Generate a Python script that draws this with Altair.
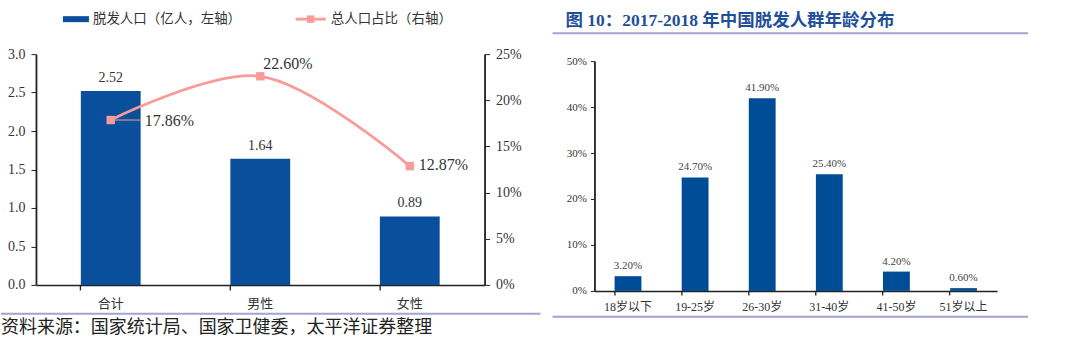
import altair as alt
import pandas as pd

# ---- data ----
left_cats = ["合计", "男性", "女性"]
left_pop = [2.52, 1.64, 0.89]
left_share = [0.1786, 0.2260, 0.1287]

right_cats = ["18岁以下", "19-25岁", "26-30岁", "31-40岁", "41-50岁", "51岁以上"]
right_vals = [0.032, 0.247, 0.419, 0.254, 0.042, 0.006]

legend_labels = ["脱发人口（亿人，左轴）", "总人口占比（右轴）"]
right_title = "图 10：2017-2018 年中国脱发人群年龄分布"
source_text = "资料来源：国家统计局、国家卫健委，太平洋证券整理"
left_ticks = [0, 0.5, 1, 1.5, 2, 2.5, 3]
right_ticks = [0, 0.05, 0.1, 0.15, 0.2, 0.25]
age_ticks = [0, 0.1, 0.2, 0.3, 0.4, 0.5]

BLUE = "#0a4f9b"
PINK = "#f99b9b"
LINEC = "#a3a3d3"
SERIF = "Liberation Serif"
CJK = "Noto Sans CJK SC"
NUMFONT = "Liberation Serif, Noto Sans CJK SC"

LW, LH = 449, 231
RW, RH = 403, 237

ldf = pd.DataFrame({"cat": left_cats, "pop": left_pop, "share": left_share})
rdf = pd.DataFrame({"cat": right_cats, "val": right_vals})
rdf["lab"] = [f"{v*100:.2f}%" for v in right_vals]
ldf["plab"] = [f"{v:.2f}" for v in left_pop]
ldf["slab"] = [f"{v*100:.2f}%" for v in left_share]

xl = alt.X("cat:N", sort=left_cats, title=None,
           scale=alt.Scale(paddingInner=0.6, paddingOuter=0.3),
           axis=alt.Axis(labelAngle=0, labelFont=CJK, labelFontSize=13, labelColor="#333",
                         labelPadding=8, bandPosition=0, tickSize=5, tickColor="#222",
                         domainColor="#222", domainWidth=1.5, tickWidth=1.3))
yl_axis = alt.Axis(values=left_ticks, format=".1f", grid=False, labelOverlap=False,
                   labelFont=SERIF, labelFontSize=14, labelColor="#333",
                   tickSize=5, tickColor="#222", domainColor="#222", domainWidth=1.8,
                   labelPadding=6)
yl = alt.Y("pop:Q", title=None, scale=alt.Scale(domain=[0, 3]), axis=yl_axis)
yr_axis = alt.Axis(orient="right", values=right_ticks, format=".0%",
                   grid=False, labelOverlap=False,
                   labelFont=SERIF, labelFontSize=14, labelColor="#333",
                   tickSize=5, tickColor="#222", domainColor="#222", domainWidth=1.8,
                   labelPadding=6)
yr = alt.Y("share:Q", title=None, scale=alt.Scale(domain=[0, 0.25]), axis=yr_axis)

base = alt.Chart(ldf)
bars = base.mark_bar(color=BLUE).encode(x=xl, y=yl)
bar_txt = base.mark_text(font=SERIF, fontSize=14, color="#333", dy=-13).encode(
    x=alt.X("cat:N", sort=left_cats), y=yl, text="plab:N")
left_bars = alt.layer(bars, bar_txt)

xs = alt.X("cat:N", sort=left_cats)
line = base.mark_line(color=PINK, strokeWidth=2.8, interpolate="catmull-rom").encode(x=xs, y=yr)
pts = base.mark_square(color=PINK, size=70, opacity=1).encode(x=xs, y=yr)
leader = base.transform_filter(alt.datum.cat == "合计").mark_rule(
    color=PINK, strokeWidth=1, x2Offset=30).encode(
    x=xs, x2=alt.X2("cat:N"), y=yr)
t1 = base.transform_filter(alt.datum.cat == "合计").mark_text(
    font=SERIF, fontSize=16, color="#333", align="left", dx=34, dy=1).encode(
    x=xs, y=yr, text="slab:N")
t2 = base.transform_filter(alt.datum.cat == "男性").mark_text(
    font=SERIF, fontSize=16, color="#333", align="left", dx=3, dy=-12).encode(
    x=xs, y=yr, text="slab:N")
t3 = base.transform_filter(alt.datum.cat == "女性").mark_text(
    font=SERIF, fontSize=16, color="#333", align="left", dx=9, dy=-1).encode(
    x=xs, y=yr, text="slab:N")
left_line = alt.layer(line, leader, pts, t1, t2, t3)

# decorations (pixel positions relative to the left view)
deco_df = pd.DataFrame({"a": [0]})
dbase = alt.Chart(deco_df)
anchor = dbase.mark_rule(color="white", strokeWidth=1).encode(
    x=alt.value(-35), x2=alt.value(-34), y=alt.value(-53))
sw1 = dbase.mark_rect(color=BLUE).encode(
    x=alt.value(27), x2=alt.value(53), y=alt.value(-38), y2=alt.value(-32))
lt1 = dbase.mark_text(font=CJK, fontSize=13.5, color="#333", align="left", baseline="middle").encode(
    x=alt.value(57), y=alt.value(-35), text=alt.value(legend_labels[0]))
sw2 = dbase.mark_rule(color=PINK, strokeWidth=2.8).encode(
    x=alt.value(260), x2=alt.value(290), y=alt.value(-35))
sw2p = dbase.mark_square(color=PINK, size=55, opacity=1).encode(
    x=alt.value(275), y=alt.value(-35))
lt2 = dbase.mark_text(font=CJK, fontSize=13.5, color="#333", align="left", baseline="middle").encode(
    x=alt.value(295), y=alt.value(-35), text=alt.value(legend_labels[1]))
fline = dbase.mark_rule(color=LINEC, strokeWidth=2).encode(
    x=alt.value(-35), x2=alt.value(505), y=alt.value(260))
ftxt = dbase.mark_text(font=CJK, fontSize=18, color="#222", align="left", baseline="middle").encode(
    x=alt.value(-35), y=alt.value(274), text=alt.value(source_text))
left_deco = alt.layer(anchor, sw1, lt1, sw2, sw2p, lt2, fline, ftxt)

left = alt.layer(left_bars, left_line, left_deco).resolve_scale(y="independent").properties(
    width=LW, height=LH)

# ---- right panel ----
xr = alt.X("cat:N", sort=right_cats, title=None,
           scale=alt.Scale(paddingInner=0.6, paddingOuter=0.3),
           axis=alt.Axis(labelAngle=0, labelFont=NUMFONT, labelFontSize=12, labelColor="#333",
                         labelPadding=7, bandPosition=0, tickSize=4, tickColor="#222",
                         domainColor="#222", domainWidth=1.5, tickWidth=1.3))
yrr = alt.Y("val:Q", title=None,
            scale=alt.Scale(domain=[0, 0.5], range=[RH, 7]),
            axis=alt.Axis(values=age_ticks, format=".0%", grid=False,
                          labelOverlap=False,
                          labelFont=SERIF, labelFontSize=11, labelColor="#333",
                          tickSize=4, tickColor="#222", domainColor="#222", domainWidth=1.8,
                          labelPadding=4))
rbase = alt.Chart(rdf)
rbars = rbase.mark_bar(color="#004d97").encode(x=xr, y=yrr)
rtxt = rbase.mark_text(font=SERIF, fontSize=11, color="#444", dy=-10).encode(
    x=xr, y=yrr, text="lab:N")
rd = alt.Chart(deco_df)
rtitle = rd.mark_text(font="Liberation Serif, Noto Sans CJK SC", fontSize=17.5, fontWeight="bold",
                      color="#1f4f99", align="left", baseline="middle").encode(
    x=alt.value(-29), y=alt.value(-33), text=alt.value(right_title))
rline1 = rd.mark_rule(color=LINEC, strokeWidth=2).encode(
    x=alt.value(-42), x2=alt.value(434), y=alt.value(-21))
rline2 = rd.mark_rule(color=LINEC, strokeWidth=2).encode(
    x=alt.value(-42), x2=alt.value(434), y=alt.value(263))
ranchor = rd.mark_rule(color="white", strokeWidth=1).encode(
    x=alt.value(484), x2=alt.value(485), y=alt.value(295))
right = alt.layer(rbars, rtxt, rtitle, rline1, rline2, ranchor).properties(width=RW, height=RH)

chart = alt.hconcat(left, right, spacing=110, bounds="flush").properties(
    padding=0, background="white"
).configure_view(stroke=None)

chart.save("out.html", embed_options={"renderer": "svg", "actions": False})
